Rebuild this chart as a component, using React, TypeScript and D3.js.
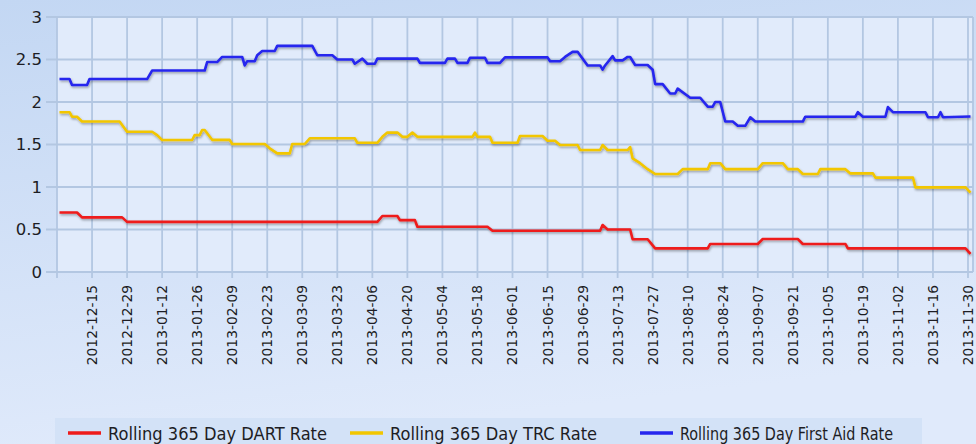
import { useRef, useEffect } from 'react';
import * as d3 from 'd3';

// Rolling 365 day rates (date, rate)
const dartRate: [string, number][] = [
  ['2012-12-02', 0.7], ['2012-12-09', 0.7], ['2012-12-11', 0.643], ['2012-12-27', 0.643],
  ['2012-12-29', 0.59], ['2013-04-08', 0.59], ['2013-04-10', 0.659], ['2013-04-16', 0.659],
  ['2013-04-17', 0.61], ['2013-04-23', 0.61], ['2013-04-24', 0.533], ['2013-05-22', 0.533],
  ['2013-05-24', 0.486], ['2013-07-06', 0.486], ['2013-07-07', 0.553], ['2013-07-09', 0.5],
  ['2013-07-18', 0.5], ['2013-07-19', 0.385], ['2013-07-25', 0.385], ['2013-07-28', 0.278],
  ['2013-08-18', 0.278], ['2013-08-19', 0.33], ['2013-09-07', 0.33], ['2013-09-09', 0.388],
  ['2013-09-23', 0.388], ['2013-09-25', 0.33], ['2013-10-12', 0.33], ['2013-10-13', 0.278],
  ['2013-11-29', 0.278], ['2013-12-01', 0.212],
];

const trcRate: [string, number][] = [
  ['2012-12-02', 1.88], ['2012-12-06', 1.88], ['2012-12-07', 1.827], ['2012-12-09', 1.827],
  ['2012-12-11', 1.77], ['2012-12-26', 1.77], ['2012-12-29', 1.65], ['2013-01-08', 1.65],
  ['2013-01-10', 1.61], ['2013-01-12', 1.553], ['2013-01-24', 1.553], ['2013-01-25', 1.61],
  ['2013-01-27', 1.61], ['2013-01-28', 1.67], ['2013-01-29', 1.67], ['2013-02-01', 1.555],
  ['2013-02-08', 1.555], ['2013-02-09', 1.506], ['2013-02-22', 1.506], ['2013-02-24', 1.455],
  ['2013-02-27', 1.396], ['2013-03-04', 1.396], ['2013-03-05', 1.506], ['2013-03-10', 1.506],
  ['2013-03-12', 1.573], ['2013-03-30', 1.573], ['2013-03-31', 1.52], ['2013-04-08', 1.52],
  ['2013-04-10', 1.59], ['2013-04-12', 1.64], ['2013-04-16', 1.64], ['2013-04-18', 1.59],
  ['2013-04-20', 1.59], ['2013-04-22', 1.64], ['2013-04-24', 1.59], ['2013-05-16', 1.59],
  ['2013-05-17', 1.64], ['2013-05-18', 1.59], ['2013-05-23', 1.59], ['2013-05-24', 1.52],
  ['2013-06-03', 1.52], ['2013-06-04', 1.6], ['2013-06-13', 1.6], ['2013-06-15', 1.545],
  ['2013-06-18', 1.545], ['2013-06-20', 1.494], ['2013-06-27', 1.494], ['2013-06-28', 1.435],
  ['2013-07-06', 1.435], ['2013-07-07', 1.494], ['2013-07-09', 1.435], ['2013-07-17', 1.435],
  ['2013-07-18', 1.47], ['2013-07-19', 1.337], ['2013-07-22', 1.28], ['2013-07-25', 1.21],
  ['2013-07-28', 1.153], ['2013-08-06', 1.153], ['2013-08-08', 1.21], ['2013-08-18', 1.21],
  ['2013-08-19', 1.28], ['2013-08-23', 1.28], ['2013-08-25', 1.21], ['2013-09-07', 1.21],
  ['2013-09-09', 1.28], ['2013-09-17', 1.28], ['2013-09-19', 1.21], ['2013-09-23', 1.21],
  ['2013-09-25', 1.153], ['2013-10-01', 1.153], ['2013-10-02', 1.21], ['2013-10-12', 1.21],
  ['2013-10-14', 1.16], ['2013-10-23', 1.16], ['2013-10-24', 1.11], ['2013-11-08', 1.11],
  ['2013-11-09', 0.996], ['2013-11-29', 0.996], ['2013-12-01', 0.933],
];

const firstAidRate: [string, number][] = [
  ['2012-12-02', 2.27], ['2012-12-06', 2.27], ['2012-12-07', 2.2], ['2012-12-13', 2.2],
  ['2012-12-14', 2.27], ['2013-01-06', 2.27], ['2013-01-08', 2.37], ['2013-01-29', 2.37],
  ['2013-01-30', 2.47], ['2013-02-03', 2.47], ['2013-02-05', 2.53], ['2013-02-13', 2.53],
  ['2013-02-14', 2.43], ['2013-02-15', 2.48], ['2013-02-18', 2.48], ['2013-02-19', 2.55],
  ['2013-02-21', 2.6], ['2013-02-26', 2.6], ['2013-02-27', 2.66], ['2013-03-13', 2.66],
  ['2013-03-15', 2.55], ['2013-03-21', 2.55], ['2013-03-23', 2.5], ['2013-03-29', 2.5],
  ['2013-03-30', 2.45], ['2013-04-02', 2.51], ['2013-04-04', 2.45], ['2013-04-07', 2.45],
  ['2013-04-08', 2.51], ['2013-04-24', 2.51], ['2013-04-25', 2.46], ['2013-05-05', 2.46],
  ['2013-05-06', 2.51], ['2013-05-09', 2.51], ['2013-05-10', 2.46], ['2013-05-14', 2.46],
  ['2013-05-15', 2.52], ['2013-05-21', 2.52], ['2013-05-22', 2.46], ['2013-05-27', 2.46],
  ['2013-05-29', 2.525], ['2013-06-15', 2.525], ['2013-06-16', 2.48], ['2013-06-20', 2.48],
  ['2013-06-22', 2.53], ['2013-06-25', 2.59], ['2013-06-27', 2.59], ['2013-07-01', 2.43],
  ['2013-07-06', 2.43], ['2013-07-07', 2.38], ['2013-07-08', 2.43], ['2013-07-11', 2.54],
  ['2013-07-12', 2.49], ['2013-07-15', 2.49], ['2013-07-17', 2.53], ['2013-07-18', 2.53],
  ['2013-07-20', 2.435], ['2013-07-25', 2.435], ['2013-07-27', 2.38], ['2013-07-28', 2.21],
  ['2013-07-31', 2.21], ['2013-08-03', 2.1], ['2013-08-05', 2.1], ['2013-08-06', 2.157],
  ['2013-08-11', 2.05], ['2013-08-15', 2.05], ['2013-08-18', 1.945], ['2013-08-20', 1.945],
  ['2013-08-21', 2.0], ['2013-08-23', 2.0], ['2013-08-25', 1.77], ['2013-08-28', 1.77],
  ['2013-08-30', 1.72], ['2013-09-02', 1.72], ['2013-09-04', 1.82], ['2013-09-06', 1.77],
  ['2013-09-25', 1.77], ['2013-09-26', 1.827], ['2013-10-16', 1.827], ['2013-10-17', 1.88],
  ['2013-10-19', 1.827], ['2013-10-28', 1.827], ['2013-10-29', 1.94], ['2013-10-31', 1.88],
  ['2013-11-13', 1.88], ['2013-11-14', 1.82], ['2013-11-18', 1.82], ['2013-11-19', 1.88],
  ['2013-11-20', 1.82], ['2013-12-01', 1.83],
];

const xTickLabels = [
  '2012-12-15', '2012-12-29', '2013-01-12', '2013-01-26', '2013-02-09', '2013-02-23',
  '2013-03-09', '2013-03-23', '2013-04-06', '2013-04-20', '2013-05-04', '2013-05-18',
  '2013-06-01', '2013-06-15', '2013-06-29', '2013-07-13', '2013-07-27', '2013-08-10',
  '2013-08-24', '2013-09-07', '2013-09-21', '2013-10-05', '2013-10-19', '2013-11-02',
  '2013-11-16', '2013-11-30',
];
const yTicks = [0, 0.5, 1, 1.5, 2, 2.5, 3];
const xDomain = ['2012-12-01', '2013-12-02'];

const seriesNames = ['Rolling 365 Day DART Rate', 'Rolling 365 Day TRC Rate', 'Rolling 365 Day First Aid Rate'];
const seriesColors = ['#ee1b1b', '#f2c600', '#2626ee'];

export default function App() {
  const svgRef = useRef<SVGSVGElement>(null);
  const width = 976;
  const height = 444;

  useEffect(() => {
    if (!svgRef.current) return;
    const svg = d3.select(svgRef.current);
    svg.selectAll('*').remove();

    const parse = d3.timeParse('%Y-%m-%d');
    const left = 57, right = 973, top = 17, bottom = 272;

    const x = d3.scaleTime()
      .domain(xDomain.map(d => parse(d) as Date))
      .range([left, right]);
    const y = d3.scaleLinear().domain([0, 3]).range([bottom, top]);

    const defs = svg.append('defs');
    const bg = defs.append('linearGradient')
      .attr('id', 'bg-grad')
      .attr('x1', '0').attr('y1', '0').attr('x2', '0.25').attr('y2', '1');
    bg.append('stop').attr('offset', '0%').attr('stop-color', '#c3d7f3');
    bg.append('stop').attr('offset', '100%').attr('stop-color', '#e0eafb');

    const shadow = defs.append('filter')
      .attr('id', 'line-shadow')
      .attr('x', '-5%').attr('y', '-20%').attr('width', '110%').attr('height', '140%');
    shadow.append('feDropShadow')
      .attr('dx', 0.8).attr('dy', 1.5).attr('stdDeviation', 0.8)
      .attr('flood-color', '#000').attr('flood-opacity', 0.35);

    svg.append('rect')
      .attr('width', width).attr('height', height)
      .attr('fill', 'url(#bg-grad)');

    // plot area
    svg.append('rect')
      .attr('x', left).attr('y', top)
      .attr('width', right - left).attr('height', bottom - top)
      .attr('fill', '#e1ebfb');

    const gridColor = '#b3c7e2';
    const grid = svg.append('g');
    grid.selectAll('line.h')
      .data(yTicks)
      .enter().append('line')
      .attr('x1', left - 11).attr('x2', right)
      .attr('y1', d => y(d)).attr('y2', d => y(d))
      .attr('stroke', gridColor).attr('stroke-width', 1.8);

    const tickDates = xTickLabels.map(d => parse(d) as Date);
    grid.selectAll('line.v')
      .data(tickDates)
      .enter().append('line')
      .attr('x1', d => x(d)).attr('x2', d => x(d))
      .attr('y1', top).attr('y2', bottom + 6)
      .attr('stroke', gridColor).attr('stroke-width', 1.8);

    // frame edges
    grid.append('line')
      .attr('x1', left).attr('x2', left).attr('y1', top).attr('y2', bottom + 6)
      .attr('stroke', gridColor).attr('stroke-width', 1.8);
    grid.append('line')
      .attr('x1', right).attr('x2', right).attr('y1', top).attr('y2', bottom)
      .attr('stroke', gridColor).attr('stroke-width', 1.8);

    // y labels
    svg.append('g')
      .selectAll('text')
      .data(yTicks)
      .enter().append('text')
      .attr('x', 42)
      .attr('y', d => y(d))
      .attr('dy', '0.36em')
      .attr('text-anchor', 'end')
      .attr('font-family', 'DejaVu Sans, sans-serif')
      .attr('font-size', 16.5)
      .attr('fill', '#1d1d24')
      .text(d => String(d));

    // x labels, rotated
    svg.append('g')
      .selectAll('text')
      .data(xTickLabels)
      .enter().append('text')
      .attr('transform', d => `translate(${x(parse(d) as Date)},${bottom + 13}) rotate(-90)`)
      .attr('dy', '0.36em')
      .attr('text-anchor', 'end')
      .attr('font-family', 'DejaVu Sans, sans-serif')
      .attr('font-size', 13.8)
      .attr('fill', '#1d1d24')
      .text(d => d);

    const line = d3.line<[string, number]>()
      .x(d => x(parse(d[0]) as Date))
      .y(d => y(d[1]));

    const allSeries = [dartRate, trcRate, firstAidRate];
    svg.append('g')
      .selectAll('path')
      .data(allSeries)
      .enter().append('path')
      .attr('d', d => line(d))
      .attr('fill', 'none')
      .attr('stroke', (_, i) => seriesColors[i])
      .attr('stroke-width', 2.6)
      .attr('stroke-linejoin', 'round')
      .attr('filter', 'url(#line-shadow)');

    // legend
    const legend = svg.append('g');
    legend.append('rect')
      .attr('x', 55).attr('y', 418)
      .attr('width', 867).attr('height', 30)
      .attr('fill', '#d3e2f7');

    const legendX = [68, 350, 640];
    const legendTextWidth = [219, 207, 213];
    seriesNames.forEach((name, i) => {
      legend.append('line')
        .attr('x1', legendX[i]).attr('x2', legendX[i] + 33)
        .attr('y1', 433).attr('y2', 433)
        .attr('stroke', seriesColors[i])
        .attr('stroke-width', 3.5);
      legend.append('text')
        .attr('x', legendX[i] + 40)
        .attr('y', 440)
        .attr('font-family', 'DejaVu Sans Condensed, DejaVu Sans, sans-serif')
        .attr('font-size', 18)
        .attr('textLength', legendTextWidth[i])
        .attr('lengthAdjust', 'spacingAndGlyphs')
        .attr('fill', '#1d1d24')
        .text(name);
    });
  }, []);

  return (
    <svg
      ref={svgRef}
      width={width}
      height={height}
      style={{ position: 'absolute', left: 0, top: 0, display: 'block' }}
    />
  );
}
